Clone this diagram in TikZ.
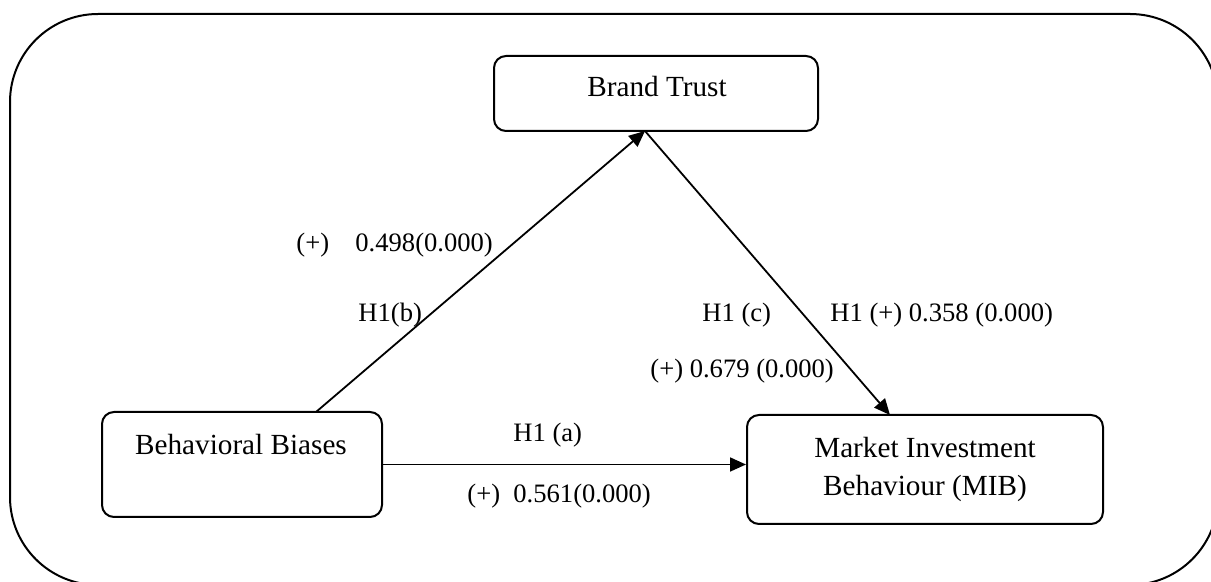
\documentclass[tikz,border=0pt]{standalone}
\usepackage{fontspec}
\setmainfont{Liberation Serif}
\usetikzlibrary{arrows.meta}
\tikzset{
  box/.style={draw, line width=1pt, rounded corners=6pt, inner sep=0pt},
  boxtext/.style={inner sep=0pt, anchor=base, font=\fontsize{14.6}{17}\selectfont},
  lbl/.style={inner sep=0pt, anchor=base west, font=\fontsize{13.3}{16}\selectfont},
  arr/.style={line width=0.9pt, -{Triangle[length=8pt, width=7pt]}},
}
\begin{document}
\begin{tikzpicture}[x=0.5pt, y=-0.5pt]
\useasboundingbox (0,0) rectangle (1211,582);
\clip (0,0) rectangle (1211,582);
% outer frame
\draw[line width=1pt, rounded corners=44pt] (10,14) rectangle (1218,585);
% boxes
\node[box, minimum width=162pt, minimum height=37.5pt] (bt) at (656,93.5) {};
\node[box, minimum width=140pt, minimum height=52.5pt] (bb) at (242,464.5) {};
\node[box, minimum width=178pt, minimum height=54.5pt] (mib) at (925,469.5) {};
% box texts
\node[boxtext] (btt) at (657,97) {Brand Trust};
\node[boxtext] (bbt) at (241,455) {Behavioral Biases};
\node[boxtext] (mibt1) at (925,458) {Market Investment};
\node[boxtext] (mibt2) at (925,496) {Behaviour (MIB)};
% connector points
\coordinate (apex) at (645,131);
\coordinate (bbtop) at (316,412);
\coordinate (mibtop) at (890,415);
% connectors
\draw[arr] (bbtop) -- (apex);
\draw[arr] (apex) -- (mibtop);
\draw[arr] (bb.east) -- (bb.east -| mib.west);
% labels
\node[lbl] (l1) at (296,252) {(+)};
\node[lbl] (l2) at (355,252) {0.498(0.000)};
\node[lbl] (l3) at (358,322) {H1(b)};
\node[lbl] (l4) at (702,322) {H1 (c)};
\node[lbl] (l5) at (830,322) {H1 (+) 0.358 (0.000)};
\node[lbl] (l6) at (650,378) {(+) 0.679 (0.000)};
\node[lbl] (l7) at (513,442) {H1 (a)};
\node[lbl] (l8) at (467,503) {(+)\hspace{0.5em}0.561(0.000)};
\end{tikzpicture}
\end{document}
